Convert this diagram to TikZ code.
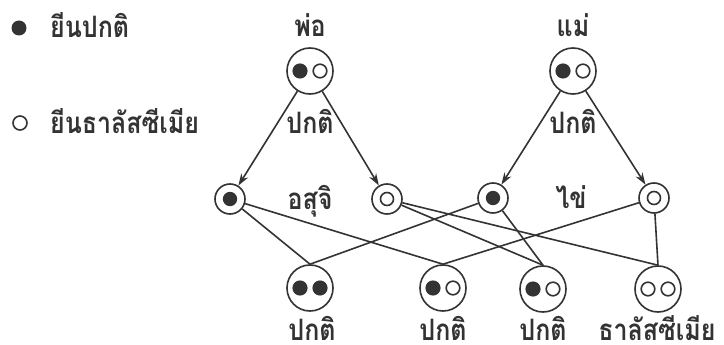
\documentclass[tikz,border=0pt]{standalone}
\usepackage{fontspec}
\usepackage{graphicx}
\newfontfamily\thai[Script=Thai]{Loma}
\usetikzlibrary{arrows.meta}
\definecolor{ink}{HTML}{333333}
\newcommand\tall[1]{\scalebox{1}[1.18]{#1}}
\begin{document}
\begin{tikzpicture}[x=1pt,y=-1pt,
  inkline/.style={draw=ink, line width=1.6pt},
  lbl/.style={text=ink, font=\thai\bfseries\fontsize{25}{30}\selectfont, inner sep=0pt, anchor=base},
  pair/.style={circle, inkline, fill=white, minimum size=46pt, inner sep=0pt},
  gam/.style={circle, inkline, fill=white, minimum size=30pt, inner sep=0pt},
  AA/.style={pair, path picture={
      \fill[ink] ([xshift=-10pt]path picture bounding box.center) circle (7.6pt);
      \fill[ink] ([xshift=10pt]path picture bounding box.center) circle (7.6pt);}},
  Aa/.style={pair, path picture={
      \fill[ink] ([xshift=-10pt]path picture bounding box.center) circle (7.6pt);
      \draw[ink, line width=1.6pt] ([xshift=10pt]path picture bounding box.center) circle (6.8pt);}},
  aa/.style={pair, path picture={
      \draw[ink, line width=1.6pt] ([xshift=-10pt]path picture bounding box.center) circle (6.8pt);
      \draw[ink, line width=1.6pt] ([xshift=10pt]path picture bounding box.center) circle (6.8pt);}},
  gA/.style={gam, path picture={\fill[ink] (path picture bounding box.center) circle (7.2pt);}},
  ga/.style={gam, path picture={\draw[ink, line width=1.6pt] (path picture bounding box.center) circle (6.5pt);}},
  cross/.style={inkline, -{Stealth[length=12pt,width=8pt]}},
  link/.style={inkline}
]
\useasboundingbox (0,0) rectangle (724,345);

% legend
\node[circle, fill=ink, minimum size=15pt, inner sep=0pt] (kA) at (19,28) {};
\node[lbl, anchor=base west] (kAt) at (50,38) {\tall{ยีนปกติ}};
\node[circle, draw=ink, line width=1.6pt, minimum size=14pt, inner sep=0pt] (ka) at (20,123) {};
\node[lbl, anchor=base west] (kat) at (50,134) {\tall{ยีนธาลัสซีเมีย}};

% parents
\node[Aa] (dad) at (310,71) {};
\node[Aa] (mom) at (573,71) {};
\node[lbl] (dadt) at (310,37) {\tall{พ่อ}};
\node[lbl] (momt) at (573,37) {\tall{แม่}};
\node[lbl] (dadp) at (310,134) {\tall{ปกติ}};
\node[lbl] (momp) at (573,134) {\tall{ปกติ}};

% gametes
\node[gA] (s1) at (230,199) {};
\node[ga] (s2) at (387,199) {};
\node[gA] (e1) at (493,198) {};
\node[ga] (e2) at (654,198) {};
\node[lbl] (st) at (310,209) {\tall{อสุจิ}};
\node[lbl] (et) at (571,208) {\tall{ไข่}};

\draw[cross] (dad) -- (s1);
\draw[cross] (dad) -- (s2);
\draw[cross] (mom) -- (e1);
\draw[cross] (mom) -- (e2);

% offspring
\node[AA] (c1) at (310,288) {};
\node[Aa] (c2) at (443,288) {};
\node[Aa] (c3) at (543,289) {};
\node[aa] (c4) at (658,289) {};

\draw[link] (s1) -- (c1.north);
\draw[link] (s1) -- (c2.north);
\draw[link] (e1) -- (c1.north);
\draw[link] (e2) -- (c2.north);
\draw[link] (s2) -- (c3.north);
\draw[link] (e1) -- (c3.north);
\draw[link] (s2) -- (c4.north);
\draw[link] (e2) -- (c4.north);

\node[lbl] (c1t) at (312,340) {\tall{ปกติ}};
\node[lbl] (c2t) at (443,340) {\tall{ปกติ}};
\node[lbl] (c3t) at (543,340) {\tall{ปกติ}};
\node[lbl] (c4t) at (657,340) {\tall{ธาลัสซีเมีย}};
\end{tikzpicture}
\end{document}
